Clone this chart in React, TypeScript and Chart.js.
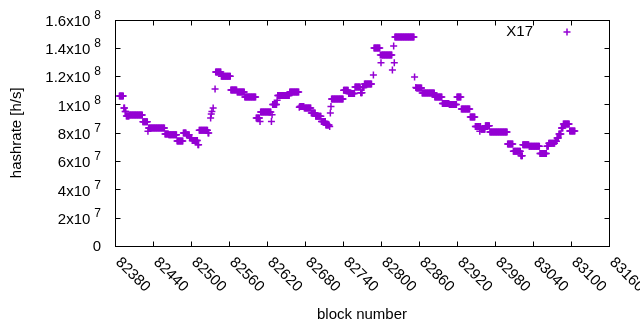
import React, { useEffect, useRef } from 'react';
import { Chart, registerables } from 'chart.js';

Chart.register(...registerables);

// ---- data ----
const seriesLabel = 'X17';
const xTitle = 'block number';
const yTitle = 'hashrate [h/s]';

// Run-length encoded per-block estimate: block start, block end, value (in 1e6 h/s)
const runStart = [
  82387, 82394, 82396, 82398, 82403, 82424, 82432, 82433, 82459, 82465,
  82478, 82488, 82493, 82498, 82502, 82511, 82513, 82527, 82531, 82532,
  82533, 82535, 82538, 82539, 82548, 82563, 82573, 82585, 82603, 82609,
  82610, 82627, 82628, 82629, 82636, 82637, 82656, 82671, 82672, 82679,
  82690, 82697, 82706, 82713, 82719, 82720, 82721, 82722, 82741, 82749,
  82759, 82768, 82771, 82774, 82788, 82789, 82799, 82800, 82801, 82818,
  82820, 82821, 82822, 82853, 82855, 82856, 82865, 82885, 82897, 82908,
  82920, 82927, 82941, 82949, 82956, 82957, 82958, 82965, 82972, 83000,
  83009, 83021, 83024, 83034, 83051, 83062, 83065, 83075, 83078, 83081,
  83085, 83088, 83098,
];
const runEnd = [
  82393, 82395, 82397, 82402, 82423, 82431, 82432, 82458, 82464, 82477,
  82487, 82492, 82497, 82501, 82510, 82512, 82526, 82528, 82531, 82532,
  82533, 82535, 82538, 82547, 82562, 82572, 82584, 82602, 82608, 82609,
  82626, 82627, 82628, 82635, 82636, 82655, 82670, 82671, 82678, 82689,
  82696, 82705, 82712, 82718, 82719, 82720, 82721, 82740, 82748, 82758,
  82767, 82770, 82773, 82785, 82788, 82798, 82799, 82800, 82817, 82818,
  82820, 82821, 82852, 82853, 82855, 82864, 82884, 82896, 82907, 82919,
  82926, 82940, 82948, 82955, 82956, 82957, 82964, 82971, 82999, 83008,
  83020, 83023, 83033, 83050, 83061, 83064, 83074, 83077, 83080, 83084,
  83087, 83097, 83106,
];
const runValue = [
  106, 97.5, 95, 91.8, 92.6, 87.8, 81, 83.4, 79.1, 78.5,
  74.2, 79.8, 78.5, 76.5, 74.6, 71.6, 81.7, 79.8, 90.4, 93.3,
  95, 97.5, 110.9, 123, 120, 110.2, 108.8, 105.3, 90.4, 88,
  94.7, 88, 92.8, 100, 103, 106.3, 108.8, 98, 98.6, 97.5,
  94, 91.6, 88, 85.5, 84.5, 94, 98.6, 103.8, 110, 107.8,
  112.3, 108.3, 112, 114.4, 120.8, 139.8, 134.9, 129.5, 134.9, 124.3,
  141.2, 129.5, 147.6, 119.4, 112, 111.6, 108, 105.3, 100.7, 100,
  105.3, 96.8, 91.1, 84.5, 81, 84.5, 82.4, 85, 80.6, 72.1,
  66.9, 63.8, 71.6, 70.4, 65.3, 70.4, 72.5, 74, 76.3, 79.2,
  83.4, 86.2, 81.3,
];

const xMin = 82380;
const xMax = 83160;
const xTicks = [82380, 82440, 82500, 82560, 82620, 82680, 82740, 82800, 82860, 82920, 82980, 83040, 83100, 83160];
const yMin = 0;
const yMax = 1.6e8;
const yTicks = [0, 2e7, 4e7, 6e7, 8e7, 1e8, 1.2e8, 1.4e8, 1.6e8];
const yTickMantissa = ['0', '2x10', '4x10', '6x10', '8x10', '1x10', '1.2x10', '1.4x10', '1.6x10'];
const yTickExponent = ['', '7', '7', '7', '7', '8', '8', '8', '8'];

const COLOR = '#9400d3';
const FONT = '"Liberation Sans", Arial, sans-serif';
const FS = 15;

function buildPoints() {
  const pts: { x: number; y: number }[] = [];
  for (let i = 0; i < runStart.length; i++) {
    for (let b = runStart[i]; b <= runEnd[i]; b++) {
      pts.push({ x: b, y: runValue[i] * 1e6 });
    }
  }
  return pts;
}

const gnuFrame = {
  id: 'gnuFrame',
  afterDraw(chart: any) {
    const { ctx, chartArea: a, scales } = chart;
    const xs = scales.x;
    const ys = scales.y;
    ctx.save();
    ctx.strokeStyle = '#000';
    ctx.lineWidth = 1;
    const L = Math.round(a.left) + 0.5;
    const R = Math.round(a.right) + 0.5;
    const T = Math.round(a.top) + 0.5;
    const B = Math.round(a.bottom) + 0.5;
    ctx.strokeRect(L, T, R - L, B - T);
    const TL = 5;
    ctx.beginPath();
    xTicks.forEach((v) => {
      const px = Math.round(xs.getPixelForValue(v)) + 0.5;
      ctx.moveTo(px, B);
      ctx.lineTo(px, B - TL);
      ctx.moveTo(px, T);
      ctx.lineTo(px, T + TL);
    });
    yTicks.forEach((v) => {
      const py = Math.round(ys.getPixelForValue(v)) + 0.5;
      ctx.moveTo(L, py);
      ctx.lineTo(L + TL, py);
      ctx.moveTo(R, py);
      ctx.lineTo(R - TL, py);
    });
    ctx.stroke();

    ctx.fillStyle = '#000';
    // y tick labels
    yTicks.forEach((v, i) => {
      const py = ys.getPixelForValue(v) + 2;
      const rightX = a.left - 14;
      const exp = yTickExponent[i];
      ctx.textBaseline = 'middle';
      ctx.textAlign = 'right';
      if (exp) {
        ctx.font = '12px ' + FONT;
        ctx.fillText(exp, rightX, py - 6);
        const ew = ctx.measureText(exp).width;
        ctx.font = FS + 'px ' + FONT;
        ctx.fillText(yTickMantissa[i], rightX - ew - 4, py);
      } else {
        ctx.font = FS + 'px ' + FONT;
        ctx.fillText(yTickMantissa[i], rightX, py - 1);
      }
    });

    // x tick labels rotated -45 (down-right)
    ctx.font = FS + 'px ' + FONT;
    xTicks.forEach((v) => {
      const px = xs.getPixelForValue(v);
      ctx.save();
      ctx.translate(px + 3, a.bottom + 14);
      ctx.rotate(Math.PI / 4);
      ctx.textAlign = 'left';
      ctx.textBaseline = 'middle';
      ctx.fillText(String(v), 0, 0);
      ctx.restore();
    });

    // axis titles
    ctx.textAlign = 'center';
    ctx.textBaseline = 'middle';
    ctx.fillText(xTitle, (a.left + a.right) / 2, 315);
    ctx.save();
    ctx.translate(17, (a.top + a.bottom) / 2);
    ctx.rotate(-Math.PI / 2);
    ctx.fillText(yTitle, 0, 0);
    ctx.restore();

    // legend (gnuplot style: text then sample)
    const ly = a.top + 12.5;
    ctx.textAlign = 'right';
    ctx.fillText(chart.data.datasets[0].label, a.right - 76, ly);
    const cx = a.right - 42;
    ctx.strokeStyle = COLOR;
    ctx.lineWidth = 1.5;
    ctx.beginPath();
    ctx.moveTo(cx - 3.5, ly);
    ctx.lineTo(cx + 3.5, ly);
    ctx.moveTo(cx, ly - 3.5);
    ctx.lineTo(cx, ly + 3.5);
    ctx.stroke();
    ctx.restore();
  },
};

export default function App() {
  const ref = useRef<HTMLCanvasElement | null>(null);
  useEffect(() => {
    if (!ref.current) return;
    const chart = new Chart(ref.current, {
      type: 'scatter',
      data: {
        datasets: [
          {
            label: seriesLabel,
            data: buildPoints(),
            pointStyle: 'cross',
            pointRadius: 3.5,
            pointBorderWidth: 1.5,
            borderColor: COLOR,
            backgroundColor: COLOR,
            pointBorderColor: COLOR,
            showLine: false,
          },
        ],
      },
      options: {
        animation: false,
        responsive: false,
        maintainAspectRatio: false,
        layout: { padding: { left: 115, right: 31, top: 19.5, bottom: 84 } },
        scales: {
          x: { type: 'linear', min: xMin, max: xMax, display: false },
          y: { type: 'linear', min: yMin, max: yMax, display: false },
        },
        plugins: {
          legend: { display: false },
          tooltip: { enabled: false },
        },
      },
      plugins: [gnuFrame],
    });
    return () => chart.destroy();
  }, []);
  return (
    <div style={{ position: 'absolute', left: 0, top: 0, width: 640, height: 330, background: '#fff' }}>
      <canvas ref={ref} width={640} height={330} />
    </div>
  );
}
